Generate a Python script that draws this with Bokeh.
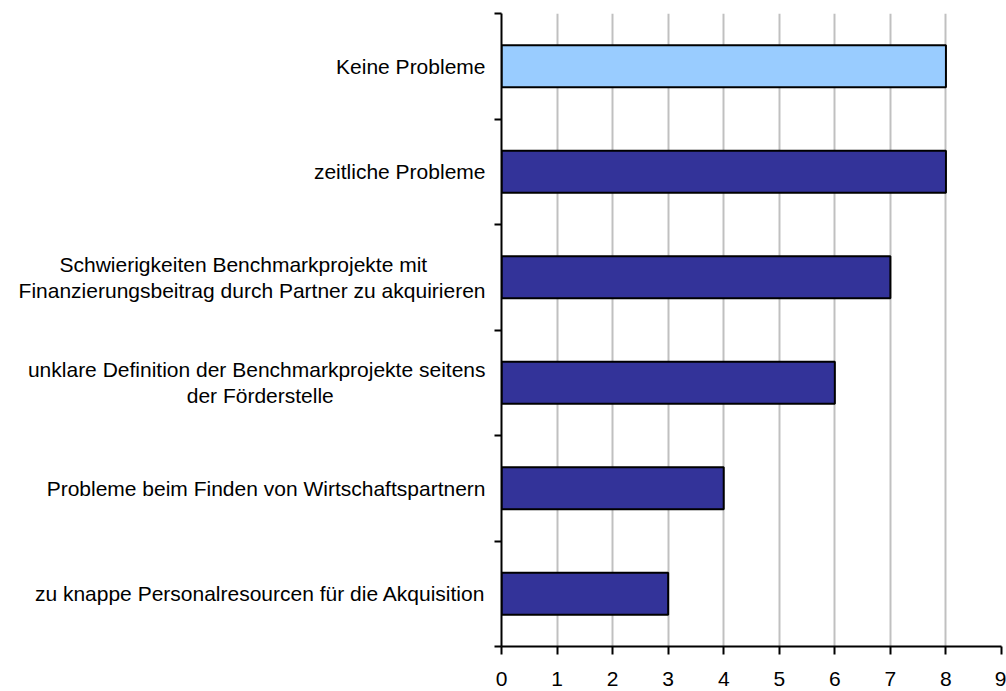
from bokeh.plotting import figure
from bokeh.models import Range1d, FixedTicker
from bokeh.embed import file_html
from bokeh.resources import INLINE

categories = [
    "Keine Probleme",
    "zeitliche Probleme",
    "Schwierigkeiten Benchmarkprojekte mit\nFinanzierungsbeitrag durch Partner zu akquirieren",
    "unklare Definition der Benchmarkprojekte seitens\nder Förderstelle",
    "Probleme beim Finden von Wirtschaftspartnern",
    "zu knappe Personalresourcen für die Akquisition",
]
values = [8, 8, 7, 6, 4, 3]
bar_colors = ["#99CCFF", "#333399", "#333399", "#333399", "#333399", "#333399"]
x_ticks = [0, 1, 2, 3, 4, 5, 6, 7, 8, 9]

n = len(categories)
centers = [n - i - 0.5 for i in range(n)]
FONT = "Liberation Sans"

# Bokeh right-aligns the lines of a multi-line axis label; pad the shorter
# line with invisible non-breaking spaces so the lines appear centred.
def centred(label):
    lines = label.split("\n")
    if len(lines) == 1:
        return label
    longest = max(len(l) for l in lines)
    return "\n".join(l + "\u00a0" * int(round((longest - len(l)) * 0.5 * 1.62)) for l in lines)

p = figure(width=1006, height=691, output_backend="svg", toolbar_location=None,
           x_range=Range1d(0, 9), y_range=Range1d(0, n),
           min_border_left=501, min_border_right=5, min_border_top=13, min_border_bottom=45)
p.outline_line_color = None
p.background_fill_color = "white"

p.hbar(y=centers, left=0, right=values, height=0.4,
       fill_color=bar_colors, line_color="black", line_width=2)

# x axis
p.xaxis.ticker = FixedTicker(ticks=x_ticks)
p.xaxis.axis_line_color = "black"
p.xaxis.axis_line_width = 2
p.xaxis.major_tick_line_color = "black"
p.xaxis.major_tick_line_width = 2
p.xaxis.major_tick_out = 8
p.xaxis.major_tick_in = 0
p.xaxis.minor_tick_line_color = None
p.xaxis.major_label_standoff = 17
p.xaxis.major_label_text_font = FONT
p.xaxis.major_label_text_font_size = "21px"
p.xaxis.major_label_text_color = "black"

# y axis: labels at category centres, tick marks (minor) at category boundaries
p.yaxis.ticker = FixedTicker(ticks=centers, minor_ticks=list(range(n + 1)))
p.yaxis.major_label_overrides = {c: centred(cat) for c, cat in zip(centers, categories)}
p.yaxis.axis_line_color = "black"
p.yaxis.axis_line_width = 2
p.yaxis.major_tick_line_color = None
p.yaxis.major_tick_out = 0
p.yaxis.major_tick_in = 0
p.yaxis.minor_tick_line_color = "black"
p.yaxis.minor_tick_line_width = 2
p.yaxis.minor_tick_out = 7
p.yaxis.minor_tick_in = 0
p.yaxis.major_label_standoff = 9
p.yaxis.major_label_text_font = FONT
p.yaxis.major_label_text_font_size = "21px"
p.yaxis.major_label_text_line_height = 1.15
p.yaxis.major_label_text_color = "black"

p.xgrid.ticker = FixedTicker(ticks=x_ticks[1:])
p.xgrid.grid_line_color = "#C0C0C0"
p.xgrid.grid_line_width = 2
p.ygrid.grid_line_color = None

open("out.html", "w").write(file_html(p, INLINE))
